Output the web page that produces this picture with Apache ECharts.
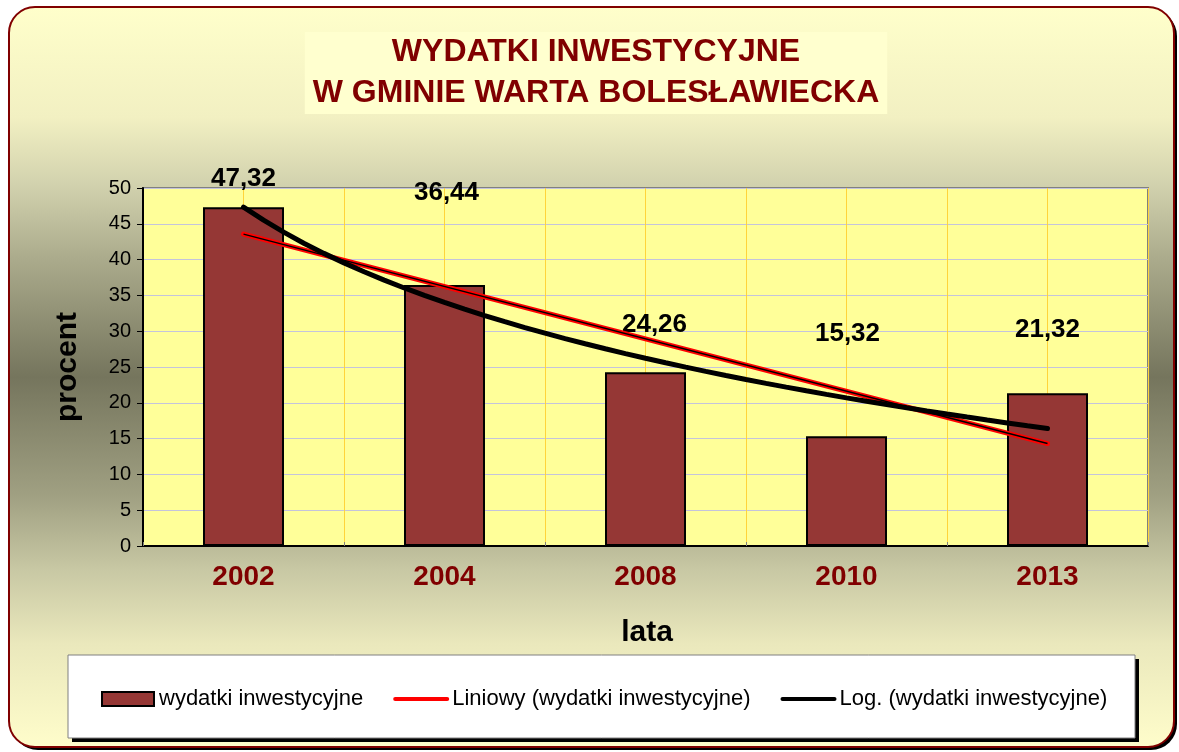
<!DOCTYPE html>
<html>
<head>
<meta charset="utf-8">
<script src="https://cdn.jsdelivr.net/npm/echarts@6/dist/echarts.min.js"></script>
<style>
html, body { margin: 0; padding: 0; background: #fff; }
#chart { width: 1179px; height: 752px; }
</style>
</head>
<body>
<div id="chart"></div>
<script>
// dane z wykresu
var years = ['2002', '2004', '2008', '2010', '2013'];
var wydatki = [47.32, 36.44, 24.26, 15.32, 21.32];
var yMin = 0, yMax = 50, yStep = 5;
var seriesNames = ['wydatki inwestycyjne', 'Liniowy (wydatki inwestycyjne)', 'Log. (wydatki inwestycyjne)'];
var titleLines = ['WYDATKI INWESTYCYJNE', 'W GMINIE WARTA BOLESŁAWIECKA'];
var axisTitles = { x: 'lata', y: 'procent' };

// przesuniecia etykiet (tak jak w oryginale, nie nad slupkami)
var labelOffsets = [[0, -10], [2, -74], [9, -29], [1, -84], [0, -46]];

var FONT = '"Liberation Sans", Arial, sans-serif';

// linie trendu jak w Excelu: x = 1..n
function leastSquares(xs, ys) {
    var n = xs.length, mx = 0, my = 0, sxy = 0, sxx = 0;
    for (var i = 0; i < n; i++) { mx += xs[i] / n; my += ys[i] / n; }
    for (var j = 0; j < n; j++) {
        sxy += (xs[j] - mx) * (ys[j] - my);
        sxx += (xs[j] - mx) * (xs[j] - mx);
    }
    var b = sxy / sxx;
    return { a: my - b * mx, b: b };
}
var idx = wydatki.map(function (v, i) { return i + 1; });
var lin = leastSquares(idx, wydatki);
var lg = leastSquares(idx.map(Math.log), wydatki);
var n = wydatki.length;
var linData = [[1, lin.a + lin.b], [n, lin.a + lin.b * n]];
var logData = [];
for (var k = 0; k <= 40; k++) {
    var x = 1 + (n - 1) * k / 40;
    logData.push([x, lg.a + lg.b * Math.log(x)]);
}

var chart = echarts.init(document.getElementById('chart'));

var noSymbol = { color: 'rgba(0,0,0,0)', borderWidth: 0, opacity: 0 };

var option = {
    backgroundColor: '#ffffff',
    animation: false,
    title: {
        text: titleLines.join('\n'),
        left: 588,
        textAlign: 'center',
        top: 32,
        padding: [0, 8],
        backgroundColor: '#FFFFCF',
        textStyle: {
            fontFamily: FONT,
            fontSize: 32,
            fontWeight: 'bold',
            color: '#800000',
            lineHeight: 41
        }
    },
    graphic: [
        { type: 'rect', z: -20, shape: { x: 12, y: 10, width: 1165, height: 740, r: 26 }, style: { fill: '#000' } },
        {
            type: 'rect', z: -19,
            shape: { x: 9, y: 7, width: 1165, height: 740, r: 26 },
            style: {
                fill: new echarts.graphic.LinearGradient(0, 0, 0, 1, [
                    { offset: 0, color: '#FFFFCB' },
                    { offset: 0.15, color: '#F2F0C2' },
                    { offset: 0.24, color: '#D2D2AE' },
                    { offset: 0.34, color: '#ABAB8C' },
                    { offset: 0.5, color: '#75755D' },
                    { offset: 0.66, color: '#A0A082' },
                    { offset: 0.76, color: '#C8C8A4' },
                    { offset: 0.86, color: '#EAE8BC' },
                    { offset: 1, color: '#FFFDCB' }
                ]),
                stroke: '#800000',
                lineWidth: 2
            }
        },
        { type: 'rect', z: -18, shape: { x: 72, y: 659, width: 1067, height: 83 }, style: { fill: '#000' } },
        { type: 'rect', z: -17, shape: { x: 68, y: 655, width: 1067, height: 83 }, style: { fill: '#fff', stroke: '#808080', lineWidth: 1 } },
        {
            type: 'text', z: 10, x: 68, y: 367, rotation: Math.PI / 2,
            style: { text: axisTitles.y, font: 'bold 30px ' + FONT, fill: '#000', textAlign: 'center', textVerticalAlign: 'middle' }
        },
        {
            type: 'text', z: 10, x: 647, y: 633,
            style: { text: axisTitles.x, font: 'bold 30px ' + FONT, fill: '#000', textAlign: 'center', textVerticalAlign: 'middle' }
        }
    ],
    legend: {
        data: [
            { name: seriesNames[0], icon: 'rect', itemStyle: { color: '#953735', borderColor: '#000', borderWidth: 2 } },
            { name: seriesNames[1], lineStyle: { color: '#FF0000', width: 4 }, itemStyle: noSymbol },
            { name: seriesNames[2], lineStyle: { color: '#000', width: 4 }, itemStyle: noSymbol }
        ],
        left: 101,
        top: 688,
        padding: 0,
        itemWidth: 52,
        itemHeight: 14,
        itemGap: 30,
        textStyle: { fontFamily: FONT, fontSize: 22, color: '#000' }
    },
    grid: {
        left: 143,
        right: 31,
        top: 188,
        bottom: 206,
        show: true,
        backgroundColor: '#FFFF99',
        borderColor: '#808080',
        borderWidth: 2
    },
    xAxis: [
        {
            type: 'category',
            data: years,
            boundaryGap: true,
            axisLine: { lineStyle: { color: '#000', width: 2 } },
            axisTick: { show: true, inside: true, length: 4, lineStyle: { color: '#808080' } },
            axisLabel: { color: '#800000', fontFamily: FONT, fontSize: 28, fontWeight: 'bold', margin: 17 },
            splitLine: { show: false }
        },
        {
            type: 'value',
            min: 0.5,
            max: n + 0.5,
            interval: 0.5,
            position: 'bottom',
            axisLine: { show: false },
            axisTick: { show: false },
            axisLabel: { show: false },
            splitLine: { show: true, lineStyle: { color: '#FFD43B', width: 1 } }
        }
    ],
    yAxis: {
        type: 'value',
        min: yMin,
        max: yMax,
        interval: yStep,
        axisLine: { show: true, lineStyle: { color: '#000', width: 2 } },
        axisTick: { show: true, length: 6, lineStyle: { color: '#000' } },
        axisLabel: { color: '#000', fontFamily: FONT, fontSize: 20, margin: 12 },
        splitLine: { lineStyle: { color: '#C4C4DC', width: 1 } }
    },
    series: [
        {
            name: seriesNames[0],
            type: 'bar',
            xAxisIndex: 0,
            barWidth: 81,
            z: 2,
            itemStyle: { color: '#953735', borderColor: '#000', borderWidth: 2 },
            label: {
                show: true,
                position: 'top',
                distance: 5,
                fontFamily: FONT,
                fontSize: 26,
                fontWeight: 'bold',
                color: '#000',
                formatter: function (p) { return p.value.toFixed(2).replace('.', ','); }
            },
            data: wydatki.map(function (v, i) {
                return { value: v, label: { offset: labelOffsets[i] } };
            })
        },
        {
            name: seriesNames[1],
            type: 'line',
            xAxisIndex: 1,
            data: linData,
            symbol: 'none',
            z: 3,
            lineStyle: { color: '#FF0000', width: 5, cap: 'round' },
            itemStyle: { color: '#FF0000' }
        },
        {
            name: 'linCore',
            type: 'line',
            xAxisIndex: 1,
            data: linData,
            symbol: 'none',
            z: 4,
            lineStyle: { color: '#000', width: 1.5 }
        },
        {
            name: seriesNames[2],
            type: 'line',
            xAxisIndex: 1,
            data: logData,
            symbol: 'none',
            z: 5,
            lineStyle: { color: '#000', width: 5, cap: 'round' },
            itemStyle: { color: '#000' }
        }
    ]
};

chart.setOption(option);
</script>
</body>
</html>
